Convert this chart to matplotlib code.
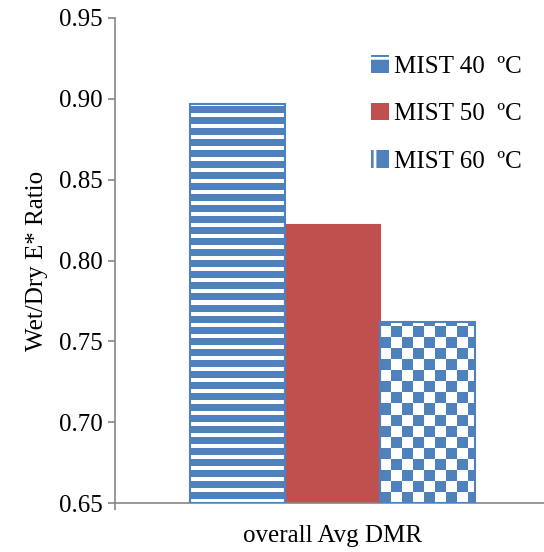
import matplotlib.pyplot as plt
import numpy as np
from matplotlib.patches import Patch

labels = ['MIST 40  ºC', 'MIST 50  ºC', 'MIST 60  ºC']
values = [0.897, 0.822, 0.762]
category = 'overall Avg DMR'

blue = '#4F81BD'
red = '#C0504D'
grey = '#868686'

plt.rcParams['font.family'] = ['Liberation Serif', 'DejaVu Serif']
plt.rcParams['font.size'] = 18
plt.rcParams['hatch.color'] = 'white'
plt.rcParams['hatch.linewidth'] = 2.0

fig = plt.figure(figsize=(5.44, 5.52), dpi=100)
ax = fig.add_axes([115 / 544, 49 / 552, 1 - 115 / 544, (503 - 18) / 552])

ymin, ymax = 0.65, 0.95
xlim = (-2.29, 2.23)
ax.set_ylim(ymin, ymax)
ax.set_xlim(xlim)

xs = [-1, 0, 1]
bars = ax.bar(xs, [v - ymin for v in values], width=1.0, bottom=ymin,
              color=['white', red, 'white'], edgecolor=[blue, red, blue],
              linewidth=1.5, zorder=2)

# pixel scale of the axes, for the fill textures
ax_h_px = 485
px_per_y = ax_h_px / (ymax - ymin)
ax_w_px = 429
px_per_x = ax_w_px / (xlim[1] - xlim[0])

white = np.array([1.0, 1.0, 1.0])
bl = np.array([0x4F, 0x81, 0xBD]) / 255

# horizontal stripes for bar 1
b = bars[0]
h_px = int(round(b.get_height() * px_per_y))
rows = np.arange(h_px)[::-1]
stripe = np.where((rows % 11) < 4, 1, 0)
img = np.where(stripe[:, None, None] == 1, white, bl) * np.ones((h_px, 1, 3))
im = ax.imshow(img, extent=(b.get_x(), b.get_x() + b.get_width(), ymin, ymin + b.get_height()),
               aspect='auto', interpolation='nearest', zorder=1.5)
im.set_clip_path(b)

# checkerboard for bar 3
b = bars[2]
h_px = int(round(b.get_height() * px_per_y))
w_px = int(round(b.get_width() * px_per_x))
rr = np.arange(h_px)[::-1][:, None] // 11
cc = np.arange(w_px)[None, :] // 11
chk = (rr + cc) % 2
img = np.where(chk[:, :, None] == 0, bl, white)
im = ax.imshow(img, extent=(b.get_x(), b.get_x() + b.get_width(), ymin, ymin + b.get_height()),
               aspect='auto', interpolation='nearest', zorder=1.5)
im.set_clip_path(b)
for b in (bars[0], bars[2]):
    b.set_facecolor('none')
    b.set_zorder(3)

ticks = np.arange(0.65, 0.951, 0.05)
ax.set_yticks(ticks)
ax.set_yticklabels(['%.2f' % t for t in ticks])
ax.set_xticks([0])
ax.set_xticklabels([category])
ax.set_xticks([xlim[0]], minor=True)
ax.tick_params(axis='x', which='major', length=0, pad=16)
ax.tick_params(axis='x', which='minor', length=5, color=grey, width=1.2)
ax.tick_params(axis='y', length=5, color=grey, width=1.2, pad=4)

for s in ['top', 'right']:
    ax.spines[s].set_visible(False)
for s in ['left', 'bottom']:
    ax.spines[s].set_color(grey)
    ax.spines[s].set_linewidth(1.2)

ax.set_ylabel('Wet/Dry E* Ratio', labelpad=8)

handles = [Patch(facecolor=blue, hatch='-'),
           Patch(facecolor=red),
           Patch(facecolor=blue, hatch='|')]
ax.legend(handles, labels, loc='upper right', bbox_to_anchor=(1.0, 0.97),
          frameon=False, handlelength=0.7, handleheight=0.7, handletextpad=0.2,
          labelspacing=1.0)

fig.savefig('out.png', dpi=100)
